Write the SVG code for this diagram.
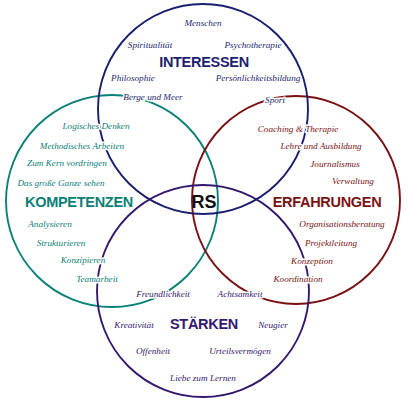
<svg xmlns="http://www.w3.org/2000/svg" width="408" height="400" viewBox="0 0 408 400">
<style>
.c{fill:none;stroke-width:1.9}
.l{font-family:"Liberation Serif",serif;font-style:italic;font-size:9.2px;text-anchor:middle;stroke:#fff;stroke-width:3;paint-order:stroke;stroke-linejoin:round}
.h{font-family:"Liberation Sans",sans-serif;font-weight:bold;font-size:14.5px;letter-spacing:-0.3px;text-anchor:middle}
.navy{fill:#1c1f6e}
.teal{fill:#0b8077}
.red{fill:#7a1214}
.pur{fill:#35186e}
</style>
<rect width="408" height="400" fill="#fff"/>
<g id="connectors">
<circle class="c" cx="112" cy="201" r="106" stroke="#0b8077"/>
<circle class="c" cx="296" cy="200" r="104" stroke="#7a1214"/>
<circle class="c" cx="203" cy="291" r="106" stroke="#35186e"/>
<circle class="c" cx="203" cy="109" r="105" stroke="#1c1f6e"/>
</g>
<g id="interessen">
<text class="h navy" x="204" y="67">INTERESSEN</text>
<text class="l navy" x="203" y="26">Menschen</text>
<text class="l navy" x="150" y="48">Spiritualität</text>
<text class="l navy" x="253" y="48">Psychotherapie</text>
<text class="l navy" x="133" y="81">Philosophie</text>
<text class="l navy" x="258" y="81">Persönlichkeitsbildung</text>
<text class="l navy" x="153" y="100">Berge und Meer</text>
<text class="l navy" x="275" y="103">Sport</text>
</g>
<g id="kompetenzen">
<text class="h teal" x="79" y="207">KOMPETENZEN</text>
<text class="l teal" x="96" y="129">Logisches Denken</text>
<text class="l teal" x="82" y="149">Methodisches Arbeiten</text>
<text class="l teal" x="67" y="166">Zum Kern vordringen</text>
<text class="l teal" x="61" y="186">Das große Ganze sehen</text>
<text class="l teal" x="50" y="227">Analysieren</text>
<text class="l teal" x="61" y="246">Strukturieren</text>
<text class="l teal" x="83" y="263">Konzipieren</text>
<text class="l teal" x="97" y="282">Teamarbeit</text>
</g>
<g id="erfahrungen">
<text class="h red" x="327" y="207">ERFAHRUNGEN</text>
<text class="l red" x="298" y="132">Coaching &amp; Therapie</text>
<text class="l red" x="321" y="149">Lehre und Ausbildung</text>
<text class="l red" x="335" y="167">Journalismus</text>
<text class="l red" x="353" y="184">Verwaltung</text>
<text class="l red" x="342" y="227">Organisationsberatung</text>
<text class="l red" x="331" y="246">Projektleitung</text>
<text class="l red" x="312" y="264">Konzeption</text>
<text class="l red" x="298" y="282">Koordination</text>
</g>
<g id="staerken">
<text class="h pur" x="204" y="329">STÄRKEN</text>
<text class="l pur" x="163" y="297">Freundlichkeit</text>
<text class="l pur" x="240" y="297">Achtsamkeit</text>
<text class="l pur" x="134" y="328">Kreativität</text>
<text class="l pur" x="273" y="328">Neugier</text>
<text class="l pur" x="153" y="354">Offenheit</text>
<text class="l pur" x="240" y="354">Urteilsvermögen</text>
<text class="l pur" x="203" y="381">Liebe zum Lernen</text>
</g>
<g id="rs">
<text class="h" x="204" y="208" style="font-size:18px;letter-spacing:0" fill="#111">RS</text>
</g>
</svg>
